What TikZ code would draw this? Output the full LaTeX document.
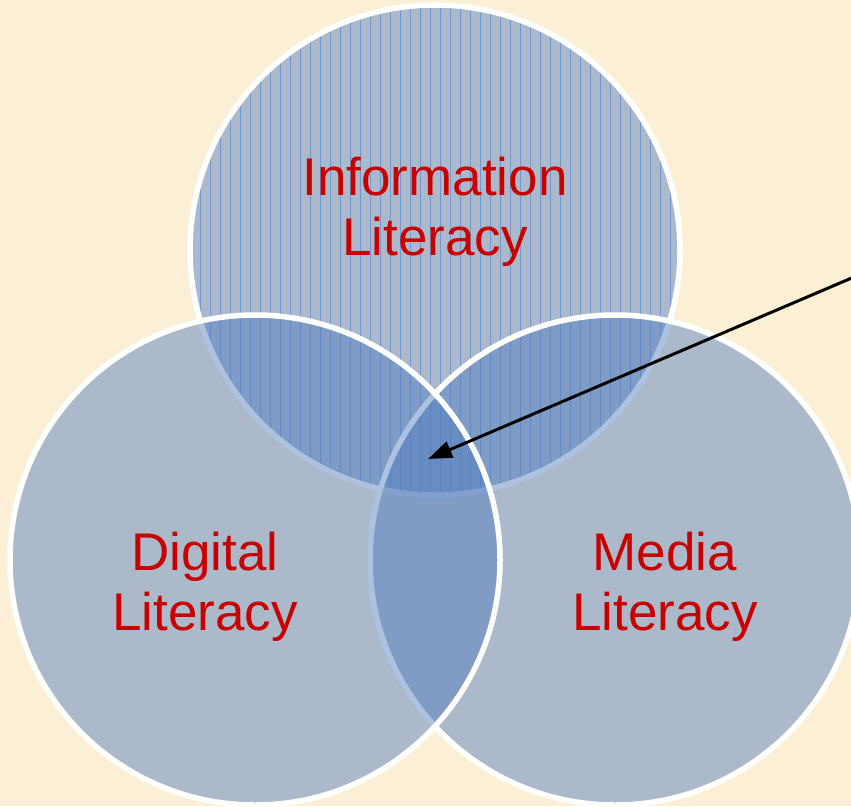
\documentclass[tikz,border=0pt]{standalone}
\usepackage{fontspec}
\setmainfont{Liberation Sans}
\usetikzlibrary{arrows.meta}
\definecolor{paper}{RGB}{251,240,214}
\definecolor{discblue}{RGB}{78,122,190}
\definecolor{stripe}{RGB}{76,128,210}
\definecolor{labelred}{RGB}{200,0,0}

\begin{document}
\begin{tikzpicture}[x=1pt,y=-1pt,
  disc/.style={fill=discblue, fill opacity=0.46},
  rim/.style={draw=white, line width=5.5pt},
  vennlabel/.style={text=labelred, font=\fontsize{53}{60}\selectfont, anchor=base, inner sep=0pt},
  pointer/.style={draw=black, line width=3pt, -{Triangle[length=24pt,width=17pt]}}
]
% paper background
\path[fill=paper] (0,0) rectangle (851,806);
\useasboundingbox (0,0) rectangle (851,806);
\clip (0,0) rectangle (851,806);

% circle centres
\coordinate (info) at (435,250);
\coordinate (digital) at (255,560);
\coordinate (media) at (615,560);

% Information Literacy: striped disc
\path[disc] (info) circle[radius=245pt];
\begin{scope}
  \clip (info) circle[radius=245pt];
  \foreach \x in {190,200,...,680}
    \draw[stripe, line width=1pt, opacity=0.6] (\x,0) -- (\x,500);
\end{scope}
\draw[rim] (info) circle[radius=245pt];

% Media Literacy
\path[disc] (media) circle[radius=245pt];
\draw[rim] (media) circle[radius=245pt];

% Digital Literacy
\path[disc] (digital) circle[radius=245pt];
\draw[rim] (digital) circle[radius=245pt];

% labels
\node[vennlabel] (infoA) at (435,195) {Information};
\node[vennlabel] (infoB) at (435,255) {Literacy};
\node[vennlabel] (digA) at (205,570) {Digital};
\node[vennlabel] (digB) at (205,630) {Literacy};
\node[vennlabel] (medA) at (665,570) {Media};
\node[vennlabel] (medB) at (665,630) {Literacy};

% pointer into the common core
\coordinate (tail) at (868,271);
\coordinate (core) at (428,459);
\draw[pointer] (tail) -- (core);
\end{tikzpicture}
\end{document}
